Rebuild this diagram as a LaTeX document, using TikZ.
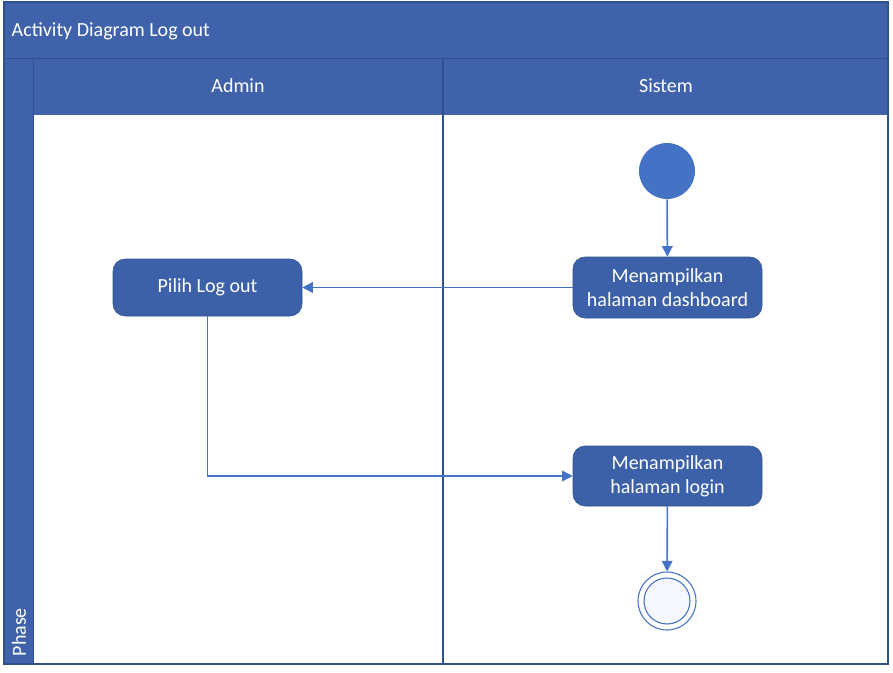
\documentclass[tikz,border=0pt]{standalone}
\usepackage{fontspec}
\setmainfont{Carlito}
\usetikzlibrary{arrows.meta}
\definecolor{lanefill}{HTML}{3F62AB}
\definecolor{boxfill}{HTML}{3D61A9}
\definecolor{flowline}{HTML}{4472C4}
\definecolor{laneline}{HTML}{2F528F}
\tikzset{
  actbox/.style={draw=laneline, fill=boxfill, rounded corners=9pt, text=white,
    align=center, minimum width=141.75pt, inner sep=2pt, font=\fontsize{15}{18}\selectfont},
  lanetext/.style={text=white, font=\fontsize{15}{18}\selectfont},
  flow/.style={draw=flowline, line width=1.2pt, -{Triangle[length=8pt,width=8pt]}},
}

\begin{document}
\begin{tikzpicture}[x=0.75pt,y=-0.75pt]
  %%%%% frame %%%%%
  \useasboundingbox (0,0) rectangle (893,672);
  \fill[lanefill] (4,2) rectangle (888,115);
  \fill[lanefill] (4,2) rectangle (33,664);
  \draw[laneline] (4,58) -- (888,58);
  \draw[laneline] (33,58) -- (33,664);
  \draw[laneline, line width=1pt] (443,58) -- (443,664);
  \draw[laneline, line width=1.2pt] (4,2) rectangle (888,664);

  \node[lanetext, anchor=west] (title) at (7,31) {Activity Diagram Log out};
  \node[lanetext] (admin) at (238,86) {Admin};
  \node[lanetext] (sistem) at (666,86) {Sistem};
  \node[lanetext, rotate=90, anchor=west] (phase) at (19,661) {Phase};

  %%%%% activities %%%%%
  \node[circle, fill=flowline, minimum size=42pt, inner sep=0pt] (start) at (667,171) {};
  \node[actbox, minimum height=45.75pt] (dash) at (667.5,287.5) {Menampilkan\\halaman dashboard};
  \node[actbox, minimum height=42.75pt] (pilih) at (207.5,287.5) {Pilih Log out};
  \node[actbox, minimum height=45pt] (login) at (667.5,476) {Menampilkan\\halaman login};
  \node[circle, draw=flowline, line width=0.8pt, minimum size=43.5pt, inner sep=0pt] (final) at (667,601) {};
  \node[circle, draw=flowline, line width=0.8pt, fill=blue!3, minimum size=34.5pt, inner sep=0pt] (finalin) at (final.center) {};

  %%%%% flows %%%%%
  \draw[flow] (start) -- (dash);
  \draw[flow] (dash) -- (pilih);
  \draw[flow] (pilih) |- (login);
  \draw[flow] (login) -- (final);
\end{tikzpicture}
\end{document}
